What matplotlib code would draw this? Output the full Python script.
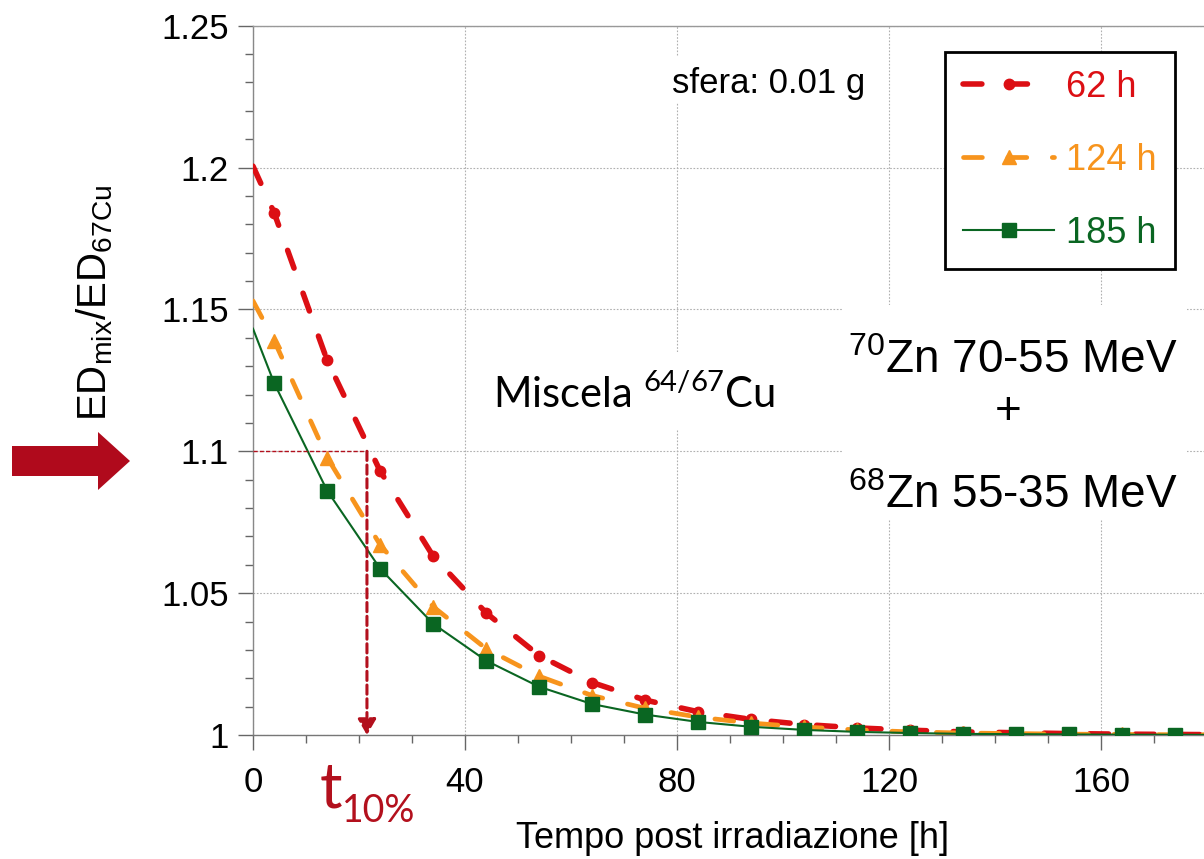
import matplotlib.pyplot as plt
from matplotlib.patches import FancyArrow, Rectangle
from matplotlib.ticker import MultipleLocator, FuncFormatter
from matplotlib.transforms import IdentityTransform

plt.rcParams['font.family'] = ['Liberation Sans', 'DejaVu Sans']
plt.rcParams['mathtext.default'] = 'regular'

# tempo post irradiazione [h] (il punto a 0 h apre solo la curva, senza marker)
t_h = [0, 4, 14, 24, 34, 44, 54, 64, 74, 84, 94, 104, 114, 124, 134, 144, 154, 164, 174, 184]

# ED_mix / ED_67Cu per le tre durate di irraggiamento
ratio_62h = [1.2005, 1.184, 1.132, 1.093, 1.063, 1.043, 1.028, 1.0185, 1.0123, 1.0082,
             1.0055, 1.0037, 1.0025, 1.0017, 1.0011, 1.0008, 1.0005, 1.0003, 1.0002, 1.0001]
ratio_124h = [1.153, 1.139, 1.0978, 1.067, 1.0452, 1.0304, 1.0207, 1.0139, 1.0094, 1.0063,
              1.0042, 1.0028, 1.0018, 1.0011, 1.0007, 1.0005, 1.0003, 1.0002, 1.0001, 1.0001]
ratio_185h = [1.1432, 1.124, 1.0861, 1.0586, 1.0392, 1.0262, 1.0170, 1.0109, 1.0072, 1.0046,
              1.0029, 1.0018, 1.0011, 1.0007, 1.0004, 1.0003, 1.0002, 1.0001, 1.0001, 1.0000]
labels = ['62 h', '124 h', '185 h']

threshold = 1.1   # soglia del 10 %
t_10 = 21.5       # tempo in cui la curva a 185 h scende sotto la soglia

red = '#dc0f14'
orange = '#f7941d'
green = '#0a6622'
dkred = '#b3101d'

W, H = 1204, 859


def fx(x):
    return x / W


def fy(y):
    return 1 - y / H


fig = plt.figure(figsize=(W / 100, H / 100), dpi=100)
ax = fig.add_axes([fx(253), fy(735), (W - 253) / W, (735 - 25.7) / H])

ax.plot(t_h, ratio_62h, color=red, lw=4, ls=(0, (3.4, 4.8)), dash_capstyle='round',
        marker='o', ms=7.5, markevery=slice(1, None), label=labels[0], zorder=3)
ax.plot(t_h, ratio_124h, color=orange, lw=3.4, ls=(0, (4.0, 5.4)), dash_capstyle='round',
        marker='^', ms=10, markevery=slice(1, None), label=labels[1], zorder=3.1)
ax.plot(t_h, ratio_185h, color=green, lw=1.5, marker='s', ms=10.5,
        markevery=slice(1, None), label=labels[2], zorder=3.2)

# t10%: linea a 1.1 e freccia verso l'asse dei tempi
ax.plot([0, t_10], [threshold, threshold], color=dkred, lw=1, ls=(0, (3, 1.5)), zorder=4)
ax.annotate('', xy=(t_10, 1.0), xytext=(t_10, threshold),
            arrowprops=dict(arrowstyle='-|>,head_length=0.95,head_width=0.55', color=dkred,
                            lw=2.2, linestyle=(0, (3, 1.5)), shrinkA=0, shrinkB=0),
            zorder=5)

ax.set_xlim(0, (W - 253) / 5.3)
ax.set_ylim(1.0, 1.25)
ax.xaxis.set_major_locator(MultipleLocator(40))
ax.xaxis.set_minor_locator(MultipleLocator(10))
ax.yaxis.set_major_locator(MultipleLocator(0.05))
ax.yaxis.set_minor_locator(MultipleLocator(0.01))
ax.yaxis.set_major_formatter(FuncFormatter(lambda v, p: f'{v:g}'))

ax.grid(True, which='major', color='#b0b0b0', lw=0.8, ls=(0, (1.5, 1.5)))
ax.tick_params(which='major', direction='out', length=11, width=1, color='#666666',
               labelsize=25)
ax.tick_params(axis='x', which='major', pad=11)
ax.tick_params(axis='y', which='major', pad=6.5)
ax.tick_params(which='minor', direction='out', length=5.5, width=1, color='#666666')

ax.spines['right'].set_visible(False)
ax.spines['top'].set_color('#999999')
ax.spines['left'].set_color('#888888')
ax.spines['bottom'].set_color('#777777')
for s in ax.spines.values():
    s.set_linewidth(1)

ax.set_xlabel('Tempo post irradiazione [h]', fontsize=26)
ax.xaxis.set_label_coords((733 - 253) / (W - 253), (735 - 821) / 709.3)
ax.set_ylabel('ED$_{mix}$/ED$_{67Cu}$', fontsize=29)
ax.yaxis.set_label_coords((115 - 253) / (W - 253), (735 - 303) / 709.3)

leg = ax.legend(loc='upper right', bbox_to_anchor=(fx(1175), fy(52)),
                bbox_transform=fig.transFigure, borderaxespad=0, fontsize=26,
                labelcolor='linecolor', handlelength=2.5, handletextpad=0.35,
                borderpad=0.5, labelspacing=1.05, fancybox=False, framealpha=1)
leg.get_frame().set_edgecolor('black')
leg.get_frame().set_linewidth(2)

# fondi bianchi dietro le scritte (coprono la griglia come nell'originale)
for x0, y0, x1, y1 in [(665, 57, 885, 103), (480, 352, 790, 430), (843, 305, 1187, 520)]:
    fig.add_artist(Rectangle((fx(x0), fy(y1)), (x1 - x0) / W, (y1 - y0) / H,
                             transform=fig.transFigure, fc='white', ec='none', zorder=1))

fig.text(fx(672), fy(93), 'sfera: 0.01 g', fontsize=25, va='baseline')
fig.text(fx(493), fy(408), 'Miscela $^{64/67}$Cu', family='Lato', fontsize=30, va='baseline')
fig.text(fx(1013), fy(373), '$^{70}$Zn 70-55 MeV', fontsize=33, ha='center', va='baseline')
fig.text(fx(1008), fy(412), '+', fontsize=33, ha='center', va='center')
fig.text(fx(1013), fy(508), '$^{68}$Zn 55-35 MeV', fontsize=33, ha='center', va='baseline')

fig.text(fx(320), fy(807), 't', family='Lato', fontsize=45, color=dkred, va='baseline')
fig.text(fx(342), fy(822), '10%', family='Lato', fontsize=27, color=dkred, va='baseline')

# freccia rossa a sinistra che indica il valore 1.1
fig.add_artist(FancyArrow(12, H - 461, 118, 0, width=30, head_width=58, head_length=32,
                          length_includes_head=True, color='#b00a1c', lw=0,
                          transform=IdentityTransform()))

fig.savefig('out.png', dpi=100)
